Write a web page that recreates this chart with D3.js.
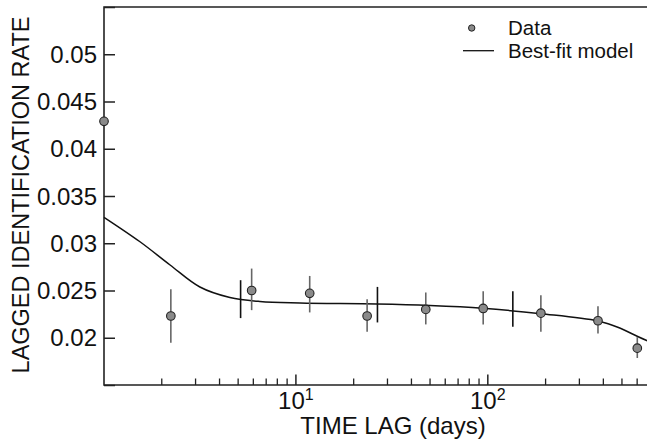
<!DOCTYPE html>
<html>
<head>
<meta charset="utf-8">
<script src="https://cdn.jsdelivr.net/npm/d3@7"></script>
<style>
  body { margin: 0; background: #fff; }
  svg { display: block; font-family: "Liberation Sans", Arial, sans-serif; }
</style>
</head>
<body>
<svg id="chart" width="647" height="440"></svg>
<script>
// measured data (time lag in days, lagged identification rate)
var dataLag  = [1.0, 2.23, 5.88, 11.8, 23.5, 47.5, 94.6, 189, 375, 601];
var dataRate = [0.0429, 0.0223, 0.0250, 0.0247, 0.0223, 0.0230, 0.0231, 0.0226, 0.0218, 0.0189];
var errLow   = [null, 0.01947, 0.02292, 0.02268, 0.02063, 0.02141, 0.02141, 0.02063, 0.02046, 0.01786];
var errHigh  = [null, 0.02512, 0.02732, 0.02654, 0.02408, 0.02479, 0.02493, 0.0245, 0.02334, 0.02007];

// best-fit model curve
var modelLag  = [1.0, 1.54, 2.21, 3.16, 4.53, 6.49, 10.5, 26.4, 49.9, 94, 189, 374, 487, 604, 700];
var modelRate = [0.03275, 0.03016, 0.02770, 0.02537, 0.02426, 0.02384, 0.02368, 0.02357, 0.02341, 0.02312, 0.02254, 0.02177, 0.02103, 0.02013, 0.01955];

// model uncertainty bars
var modelErrLag  = [5.15, 26.6, 135];
var modelErrLow  = [0.02208, 0.02162, 0.02116];
var modelErrHigh = [0.02609, 0.02538, 0.02493];

var yTickValues = [0.015, 0.02, 0.025, 0.03, 0.035, 0.04, 0.045, 0.05, 0.055];
var yTickLabels = ["", "0.02", "0.025", "0.03", "0.035", "0.04", "0.045", "0.05", ""];
var xMajorTicks = [10, 100];
var xMinorTicks = [2, 3, 4, 5, 6, 7, 8, 9, 20, 30, 40, 50, 60, 70, 80, 90, 200, 300, 400, 500, 600, 700];

var svg = d3.select("#chart");
var x = d3.scaleLog().domain([1, 700]).range([104, 650]);
var y = d3.scaleLinear().domain([0.015, 0.055]).range([385, 7]);

// y axis (ticks inward)
var yAxis = d3.axisRight(y).tickValues(yTickValues).tickSize(11).tickFormat("");
var gy = svg.append("g").attr("transform", "translate(" + x(1) + ",0)").call(yAxis);
gy.select(".domain").remove();
gy.selectAll(".tick line").attr("stroke", "#222").attr("stroke-width", 1.5);

svg.selectAll(".ylab").data(yTickValues).enter().append("text")
  .attr("class", "ylab")
  .attr("x", 97).attr("y", function (d) { return y(d); })
  .attr("dy", "0.36em")
  .attr("text-anchor", "end")
  .attr("font-size", 24)
  .attr("fill", "#111")
  .text(function (d, i) { return yTickLabels[i]; });

// x axis (ticks inward)
var gx = svg.append("g").attr("transform", "translate(0,385)");
gx.selectAll(".minor").data(xMinorTicks).enter().append("line")
  .attr("x1", function (d) { return x(d); }).attr("x2", function (d) { return x(d); })
  .attr("y1", 0).attr("y2", -6.5)
  .attr("stroke", "#222").attr("stroke-width", 1.3);
gx.selectAll(".major").data(xMajorTicks).enter().append("line")
  .attr("x1", function (d) { return x(d); }).attr("x2", function (d) { return x(d); })
  .attr("y1", 0).attr("y2", -10.5)
  .attr("stroke", "#222").attr("stroke-width", 1.5);
var xl = gx.selectAll(".xlab").data(xMajorTicks).enter().append("text")
  .attr("x", function (d) { return x(d); })
  .attr("y", 23.5)
  .attr("text-anchor", "middle")
  .attr("font-size", 24)
  .attr("fill", "#111");
xl.append("tspan").text("10");
xl.append("tspan").attr("dy", -9).attr("font-size", 16)
  .text(function (d) { return String(Math.round(Math.log10(d))); });

// frame: left, bottom, top
svg.append("path")
  .attr("d", "M647,7H" + x(1) + "V385H647")
  .attr("fill", "none").attr("stroke", "#222").attr("stroke-width", 1.6);

// model curve
var modelPts = modelLag.map(function (d, i) { return [d, modelRate[i]]; });
var line = d3.line()
  .x(function (d) { return x(d[0]); })
  .y(function (d) { return y(d[1]); })
  .curve(d3.curveCatmullRom.alpha(0.5));
svg.append("path").datum(modelPts)
  .attr("d", line)
  .attr("fill", "none").attr("stroke", "#111").attr("stroke-width", 1.5);

// model bars
svg.selectAll(".merr").data(modelErrLag).enter().append("line")
  .attr("x1", function (d) { return x(d); }).attr("x2", function (d) { return x(d); })
  .attr("y1", function (d, i) { return y(modelErrLow[i]); })
  .attr("y2", function (d, i) { return y(modelErrHigh[i]); })
  .attr("stroke", "#111").attr("stroke-width", 1.6);

// data error bars
var pts = dataLag.map(function (d, i) { return { lag: d, rate: dataRate[i], lo: errLow[i], hi: errHigh[i] }; });
svg.selectAll(".derr").data(pts.filter(function (p) { return p.lo != null; })).enter().append("line")
  .attr("x1", function (d) { return x(d.lag); }).attr("x2", function (d) { return x(d.lag); })
  .attr("y1", function (d) { return y(d.lo); })
  .attr("y2", function (d) { return y(d.hi); })
  .attr("stroke", "#666").attr("stroke-width", 1.6);

svg.selectAll(".pt").data(pts).enter().append("circle")
  .attr("cx", function (d) { return x(d.lag); })
  .attr("cy", function (d) { return y(d.rate); })
  .attr("r", 4.3)
  .attr("fill", "#8a8a8a").attr("stroke", "#222").attr("stroke-width", 1.1);

// legend
svg.append("circle").attr("cx", 471.7).attr("cy", 28).attr("r", 3.2)
  .attr("fill", "#8a8a8a").attr("stroke", "#222").attr("stroke-width", 1);
svg.append("text").attr("x", 508).attr("y", 34.5).attr("font-size", 20.5).attr("fill", "#111").text("Data");
svg.append("line").attr("x1", 463).attr("x2", 494).attr("y1", 50.7).attr("y2", 50.7)
  .attr("stroke", "#111").attr("stroke-width", 1.3);
svg.append("text").attr("x", 508).attr("y", 57.5).attr("font-size", 20.5).attr("fill", "#111").text("Best-fit model");

// axis titles
svg.append("text").attr("x", 393).attr("y", 433.5).attr("text-anchor", "middle")
  .attr("font-size", 24).attr("fill", "#111").text("TIME LAG (days)");
svg.append("text").attr("transform", "translate(29,195) rotate(-90)")
  .attr("text-anchor", "middle").attr("font-size", 23.5).attr("fill", "#111")
  .text("LAGGED IDENTIFICATION RATE");
</script>
</body>
</html>
